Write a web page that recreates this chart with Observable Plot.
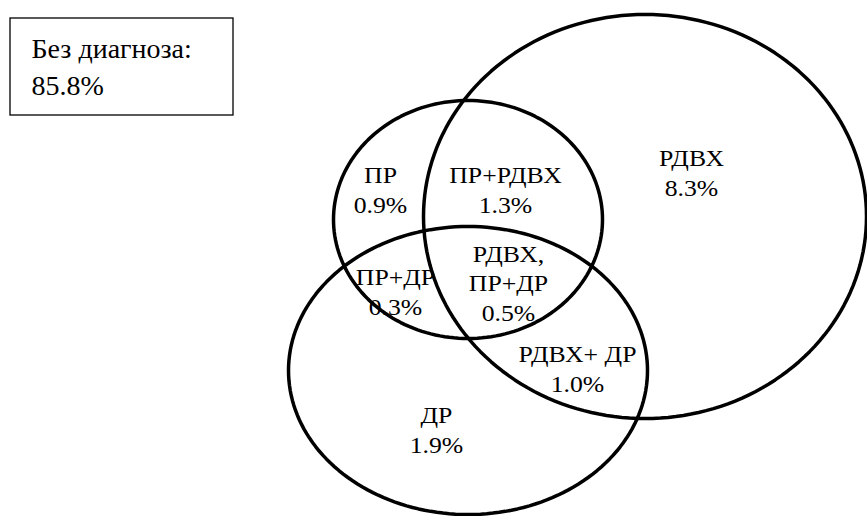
<!DOCTYPE html>
<html>
<head>
<meta charset="utf-8">
<script src="https://cdn.jsdelivr.net/npm/d3@7"></script>
<script src="https://cdn.jsdelivr.net/npm/@observablehq/plot@0.6"></script>
<style>
  html, body { margin: 0; padding: 0; background: #fff; }
  #chart svg { display: block; }
</style>
</head>
<body>
<div id="chart"></div>
<script>
// Sets (ellipses) in a pixel-like coordinate system (y downward)
const setNames = ["ПР", "РДВХ", "ДР"];
const setCx = [467.5, 644.5, 467.5];
const setCy = [219, 216, 370];
const setRx = [134.5, 221.5, 179.5];
const setRy = [119, 202, 144];

// Region labels and their shares
const regionNames = ["ПР", "ПР+РДВХ", "РДВХ", "ПР+ДР", "РДВХ,\nПР+ДР", "РДВХ+ ДР", "ДР"];
const regionValues = [0.9, 1.3, 8.3, 0.3, 0.5, 1.0, 1.9];
const regionX = [380, 505, 691, 395, 508, 577, 436];
const regionY = [212, 212, 195, 314, 320, 391, 452];

// "No diagnosis" box
const noDiagLabel = "Без диагноза:";
const noDiagValue = 85.8;
const boxX = [10, 233];
const boxY = [18, 115];
const boxTextX = 31;
const boxTextY = 94;

const fmt = v => v.toFixed(1) + "%";

const ellipsePts = [];
setNames.forEach((name, i) => {
  for (let a = 0; a < 360; a += 2) {
    const t = a * Math.PI / 180;
    ellipsePts.push({set: name, x: setCx[i] + setRx[i] * Math.cos(t), y: setCy[i] + setRy[i] * Math.sin(t)});
  }
});

const regions = regionNames.map((n, i) => ({label: n + "\n" + fmt(regionValues[i]), x: regionX[i], y: regionY[i]}));
const box = [{x1: boxX[0], x2: boxX[1], y1: boxY[0], y2: boxY[1]}];
const boxText = [{label: noDiagLabel + "\n" + fmt(noDiagValue), x: boxTextX, y: boxTextY}];

const chart = Plot.plot({
  width: 867,
  height: 516,
  margin: 0,
  x: {domain: [0, 867], range: [0, 867], axis: null},
  y: {domain: [0, 516], range: [0, 516], axis: null},
  style: {background: "#fff"},
  marks: [
    Plot.text(regions, {x: "x", y: "y", text: "label", fontSize: 23, lineHeight: 1.28, lineAnchor: "bottom", textAnchor: "middle", fill: "#000", className: "region-labels"}),
    Plot.line(ellipsePts, {x: "x", y: "y", z: "set", curve: "linear-closed", stroke: "#000", strokeWidth: 3.5}),
    Plot.rect(box, {x1: "x1", x2: "x2", y1: "y1", y2: "y2", fill: "#fff", stroke: "#000", strokeWidth: 1.3}),
    Plot.text(boxText, {x: "x", y: "y", text: "label", fontSize: 28, lineHeight: 1.29, lineAnchor: "bottom", textAnchor: "start", fill: "#000", className: "box-label"})
  ]
});

// serif font set directly on the text elements; slight horizontal stretch of region labels
d3.select(chart).selectAll("text").attr("font-family", null)
  .style("font-family", "'Liberation Serif', 'DejaVu Serif', 'Liberation Mono', monospace");
d3.select(chart).selectAll("g.region-labels text").each(function () {
  const t = this.getAttribute("transform") || "";
  this.setAttribute("transform", t + " scale(1.12,1)");
});

document.getElementById("chart").appendChild(chart);
</script>
</body>
</html>
